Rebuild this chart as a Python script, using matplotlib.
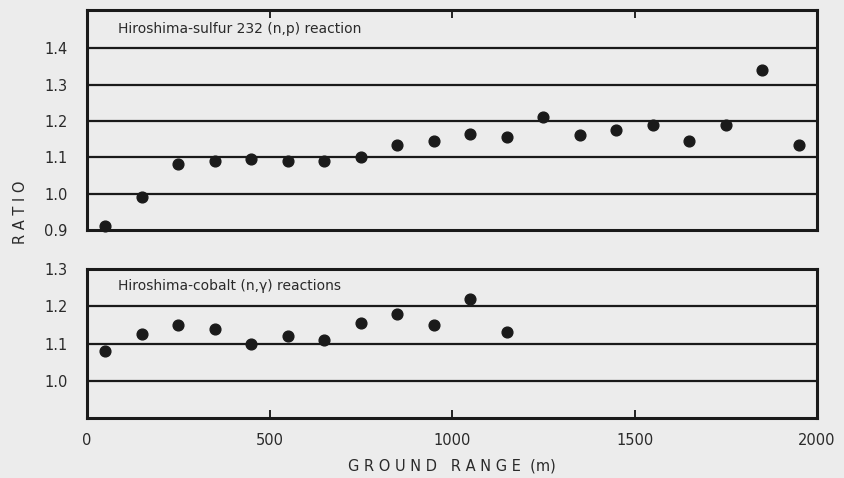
import matplotlib.pyplot as plt
import numpy as np

# ------------------------------------------------------
# Data (ground range bin centres, m)
# ------------------------------------------------------
sulfur_range = [50, 150, 250, 350, 450, 550, 650, 750, 850, 950,
                1050, 1150, 1250, 1350, 1450, 1550, 1650, 1750, 1850, 1950]
sulfur_ratio = [0.91, 0.99, 1.08, 1.09, 1.095, 1.09, 1.09, 1.10, 1.135, 1.145,
                1.165, 1.155, 1.21, 1.16, 1.175, 1.19, 1.145, 1.19, 1.34, 1.135]

cobalt_range = [50, 150, 250, 350, 450, 550, 650, 750, 850, 950, 1050, 1150]
cobalt_ratio = [1.08, 1.125, 1.15, 1.14, 1.10, 1.12, 1.11, 1.155, 1.18, 1.15, 1.22, 1.13]

top_ticks = [0.9, 1.0, 1.1, 1.2, 1.3, 1.4]
bottom_ticks = [1.0, 1.1, 1.2, 1.3]
x_ticks = [0, 500, 1000, 1500, 2000]

bg = "#ececec"
ink = "#1a1a1a"
txt = "#2a2a2a"

plt.rcParams["font.family"] = ["DejaVu Sans"]

fig = plt.figure(figsize=(8.45, 4.78), dpi=100)
fig.patch.set_facecolor(bg)

ax1 = fig.add_axes([0.103, 0.519, 0.864, 0.460])
ax2 = fig.add_axes([0.103, 0.1255, 0.864, 0.3115])


def style(ax, yticks, ylim):
    ax.set_facecolor(bg)
    ax.set_xlim(0, 2000)
    ax.set_ylim(*ylim)
    for y in yticks:
        if ylim[0] < y < ylim[1]:
            ax.axhline(y, color=ink, lw=1.6, zorder=1)
    for s in ax.spines.values():
        s.set_linewidth(2.2)
        s.set_color(ink)
    ax.set_yticks(yticks)
    ax.set_yticklabels([f"{v:.1f}" for v in yticks], fontsize=10.5, color=txt)
    ax.tick_params(axis="y", length=0, pad=14)


# ------------------------------------------------------
# Upper panel — sulfur
# ------------------------------------------------------
style(ax1, top_ticks, (0.9, 1.505))
ax1.scatter(sulfur_range, sulfur_ratio, s=60, c=ink, zorder=3, clip_on=False)
ax1.set_xticks([500, 1000, 1500])
ax1.tick_params(axis="x", direction="in", length=6, width=1.2,
                bottom=False, top=True, labelbottom=False)
ax1.text(85, 1.443, "Hiroshima-sulfur 232 (n,p) reaction", fontsize=10, color=txt)

# ------------------------------------------------------
# Lower panel — cobalt
# ------------------------------------------------------
style(ax2, bottom_ticks, (0.9, 1.3))
ax2.scatter(cobalt_range, cobalt_ratio, s=60, c=ink, zorder=3)
ax2.set_xticks(x_ticks)
ax2.set_xticklabels([str(v) for v in x_ticks], fontsize=10.5, color=txt)
ax2.tick_params(axis="x", direction="in", length=6, width=1.2, pad=11)
ax2.text(85, 1.243, "Hiroshima-cobalt (n,γ) reactions", fontsize=10, color=txt)

ax2.set_xlabel("G R O U N D   R A N G E  (m)", fontsize=10.5, color=txt, labelpad=7)
fig.text(0.024, 0.556, "R A T I O", rotation=90, ha="center", va="center",
         fontsize=10.5, color=txt)

plt.savefig("out.png", dpi=100, facecolor=bg)
plt.close()
